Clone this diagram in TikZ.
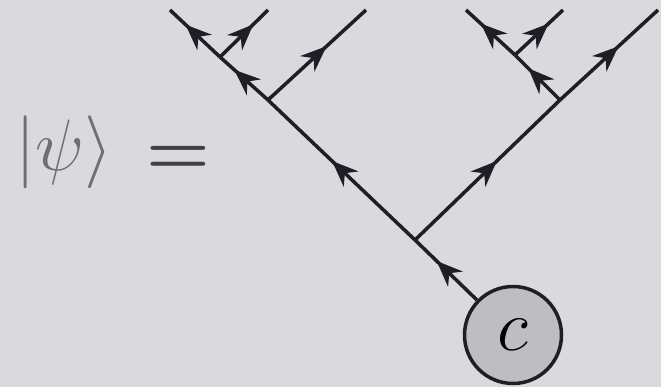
\documentclass[tikz,border=0pt]{standalone}
\usetikzlibrary{arrows.meta,decorations.markings}
\definecolor{ketPaper}{HTML}{DAD9DD}
\definecolor{ketInk}{HTML}{1E1E26}
\definecolor{ketGrey}{HTML}{BEBDC2}
\definecolor{ketText}{HTML}{6E6E73}
\begin{document}
\begin{tikzpicture}[
  x=0.1mm, y=-0.1mm,
  wire/.style={draw=ketInk, line width=0.35mm, postaction={decorate},
    decoration={markings, mark=at position 0.5 with {\arrow[xshift=1.3mm]{Stealth[length=2.6mm,width=2.1mm]}}}},
  amp/.style={circle, draw=ketInk, fill=ketGrey, minimum size=9.7mm, inner sep=0pt, line width=0.35mm},
  big/.style={font=\fontsize{20.74}{25}\selectfont, inner sep=0pt},
]
\fill[ketPaper] (0,0) rectangle (661,387);
\node[big, text=ketText] (ket) at (64,152) {$|\psi\rangle$};
\node[big, text=ketInk!85] (eq) at (178,160) {\bfseries =};
\node[amp, big] (amp) at (513,335) {$c$};
\coordinate (root) at (415,240);
\coordinate (L) at (268,100);
\coordinate (LL) at (220,57);
\coordinate (LLa) at (170,10);
\coordinate (LLb) at (268,10);
\coordinate (La) at (366,10);
\coordinate (R) at (560,100);
\coordinate (RL) at (515,55);
\coordinate (RLa) at (466,10);
\coordinate (RLb) at (563,10);
\coordinate (Ra) at (658,10);
\draw[wire] (amp) -- (root);
\draw[wire] (root) -- (L);
\draw[wire] (root) -- (R);
\draw[wire] (L) -- (LL);
\draw[wire] (L) -- (La);
\draw[wire] (LL) -- (LLa);
\draw[wire] (LL) -- (LLb);
\draw[wire] (R) -- (RL);
\draw[wire] (R) -- (Ra);
\draw[wire] (RL) -- (RLa);
\draw[wire] (RL) -- (RLb);
\end{tikzpicture}
\end{document}
